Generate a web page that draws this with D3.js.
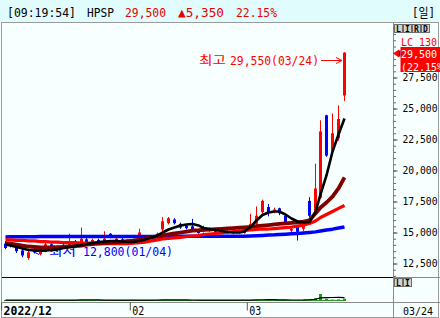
<!DOCTYPE html>
<html>
<head>
<meta charset="utf-8">
<script src="https://cdn.jsdelivr.net/npm/d3@7"></script>
<style>
html, body { margin: 0; padding: 0; background: #fff; }
svg { display: block; }
</style>
</head>
<body>
<svg id="chart" width="440" height="318"></svg>
<script>
// Static data
const dates = [
  '12/28', '12/29',
  '01/02', '01/03', '01/04', '01/05', '01/06', '01/09', '01/10', '01/11', '01/12', '01/13',
  '01/16', '01/17', '01/18', '01/19', '01/20', '01/25', '01/26', '01/27', '01/30', '01/31',
  '02/01', '02/02', '02/03', '02/06', '02/07', '02/08', '02/09', '02/10', '02/13', '02/14',
  '02/15', '02/16', '02/17', '02/20', '02/21', '02/22', '02/23', '02/24', '02/27', '02/28',
  '03/02', '03/03', '03/06', '03/07', '03/08', '03/09', '03/10', '03/13', '03/14', '03/15',
  '03/16', '03/17', '03/20', '03/21', '03/22', '03/23', '03/24'
];

const opens = [
  14100, 14000, 13950, 13550, 12950, 13600, 13250, 13650, 14050, 13750,
  14000, 13900, 14300, 14100, 14450, 14200, 14400, 14300, 14900, 14350,
  14450, 14200, 14400, 14750, 14550, 14600, 14700, 15250, 15750, 16050,
  15700, 15550, 15500, 15150, 15100, 15150, 15100, 14950, 15100, 14950,
  15100, 14950, 15300, 15700, 16650, 17050, 16700, 16950, 16350, 15150,
  15450, 15300, 17550, 16750, 17800, 24450, 21600, 22600, 26050
];
const highs = [
  14300, 14100, 14050, 13650, 13500, 13700, 13800, 14150, 14150, 14000,
  14100, 14900, 14400, 15400, 14600, 14500, 14500, 15100, 14950, 14600,
  14550, 14450, 14500, 15300, 14800, 14800, 15000, 16250, 16250, 16150,
  15800, 15650, 16100, 15250, 15550, 15400, 15150, 15200, 15200, 15200,
  15250, 15400, 16500, 17100, 17650, 17300, 17000, 17000, 16500, 15450,
  15550, 15700, 17850, 20550, 24050, 24500, 24600, 25250, 29550
];
const lows = [
  13650, 13800, 13350, 13000, 12800, 13300, 13150, 13600, 13700, 13650,
  13800, 13850, 14000, 14050, 14100, 14150, 14150, 14250, 14550, 14300,
  14150, 14100, 14200, 14700, 14350, 14500, 14600, 15100, 15650, 15650,
  15300, 15250, 15050, 14900, 15000, 15050, 14850, 14900, 14900, 14850,
  14900, 14900, 15200, 15600, 16500, 16300, 16550, 16400, 15700, 14950,
  14350, 15100, 16200, 16500, 17700, 21100, 21500, 22400, 25600
];
const closes = [
  13750, 13900, 13500, 13150, 13400, 13400, 13700, 14050, 13800, 13950,
  13850, 14300, 14100, 14500, 14200, 14400, 14250, 14500, 14600, 14500,
  14250, 14350, 14300, 15000, 14650, 14700, 14900, 15900, 16150, 15750,
  15400, 15350, 15150, 14950, 15250, 15250, 14900, 15100, 14950, 15100,
  15000, 15300, 15700, 16350, 17550, 16650, 16850, 16550, 15850, 15300,
  15050, 15550, 16350, 18550, 23150, 21200, 23000, 24150, 29500
];

// moving averages as drawn (5 / 20 / 60 / 120)
const ma5 = [
  14030, 13950, 13830, 13710, 13590, 13550, 13550, 13550, 13590, 13630,
  13750, 13830, 13910, 13990, 14070, 14150, 14230, 14270, 14320, 14320,
  14270, 14230, 14230, 14320, 14440, 14600, 14760, 15000, 15240, 15400,
  15570, 15650, 15690, 15570, 15360, 15280, 15200, 15120, 15040, 15000,
  15000, 15080, 15440, 15970, 16410, 16610, 16690, 16690, 16450, 16130,
  15890, 15810, 15850, 16690, 18070, 19600, 21530, 22900, 24190
];
const ma20 = [
  14150, 14110, 14030, 13950, 13870, 13830, 13790, 13790, 13790, 13790,
  13830, 13870, 13910, 13950, 14030, 14070, 14110, 14150, 14190, 14230,
  14270, 14310, 14350, 14430, 14520, 14600, 14680, 14760, 14840, 14920,
  15000, 15080, 15160, 15180, 15210, 15240, 15270, 15300, 15330, 15360,
  15390, 15420, 15460, 15510, 15560, 15600, 15650, 15700, 15740, 15780,
  15820, 15870, 15980, 16530, 17020, 17420, 17900, 18550, 19440
];
const ma60 = [
  14400, 14400, 14360, 14360, 14320, 14320, 14270, 14270, 14230, 14230,
  14190, 14190, 14190, 14150, 14150, 14150, 14110, 14110, 14110, 14110,
  14110, 14110, 14150, 14190, 14230, 14320, 14400, 14480, 14520, 14560,
  14600, 14680, 14720, 14760, 14840, 14880, 14920, 14960, 15040, 15080,
  15120, 15160, 15200, 15240, 15280, 15280, 15320, 15360, 15400, 15440,
  15520, 15600, 15730, 15930, 16210, 16450, 16690, 16940, 17180
];
const ma120 = [
  14640, 14650, 14650, 14660, 14660, 14660, 14670, 14670, 14670, 14670,
  14680, 14680, 14680, 14680, 14680, 14680, 14680, 14670, 14670, 14670,
  14670, 14670, 14670, 14670, 14670, 14680, 14680, 14690, 14690, 14700,
  14700, 14700, 14700, 14700, 14700, 14700, 14700, 14690, 14690, 14690,
  14690, 14700, 14720, 14740, 14760, 14790, 14810, 14840, 14860, 14890,
  14920, 14960, 15000, 15050, 15120, 15200, 15270, 15360, 15450
];

// volume (thousand shares) and its 5-day average as drawn
const volumes = [
  300, 250, 400, 450, 500, 300, 350, 400, 300, 250,
  300, 800, 600, 900, 400, 300, 250, 500, 350, 300,
  250, 300, 350, 700, 400, 300, 350, 900, 700, 500,
  400, 350, 500, 400, 300, 300, 350, 250, 300, 250,
  300, 500, 900, 1000, 1100, 600, 400, 500, 600, 400,
  700, 500, 1500, 3000, 7000, 2200, 1400, 1600, 2400
];
const volMa5 = [
  350, 340, 360, 380, 380, 380, 400, 400, 390, 330,
  320, 420, 450, 530, 600, 600, 550, 470, 360, 340,
  330, 340, 310, 380, 400, 410, 410, 530, 530, 530,
  570, 570, 490, 430, 390, 370, 370, 320, 300, 290,
  290, 320, 460, 590, 760, 820, 800, 720, 640, 500,
  520, 540, 740, 1220, 2540, 2840, 3020, 3040, 2920
];

// tick labels
const priceTicks = [12500, 15000, 17500, 20000, 22500, 25000, 27500];
const monthTicks = ['12/28', '02/01', '03/02'];
const monthLabels = ['2022/12', '02', '03'];

// header quote
const quoteTime = '09:19:54';
const quoteName = 'HPSP';
const quotePrice = 29500;
const quoteChange = 5350;
const quotePct = 22.15;

const mono = "'DejaVu Sans Mono', 'Liberation Mono', monospace";
const kr = "'Noto Sans CJK KR', sans-serif";
const fmt = d3.format(',');

const svg = d3.select('#chart');

// backgrounds / frame
svg.append('rect').attr('width', 440).attr('height', 318).attr('fill', '#f7ffff');
svg.append('rect').attr('width', 440).attr('height', 22).attr('fill', '#e0fcfc');
svg.append('rect')
   .attr('x', 1.5).attr('y', 22.5).attr('width', 437).attr('height', 295)
   .attr('fill', 'none').attr('stroke', '#9a9a9a');
svg.append('line').attr('x1', 393.5).attr('x2', 393.5).attr('y1', 23).attr('y2', 318).attr('stroke', '#8a8a8a');
svg.append('line').attr('x1', 2).attr('x2', 393).attr('y1', 277.5).attr('y2', 277.5).attr('stroke', '#000');
svg.append('line').attr('x1', 393).attr('x2', 440).attr('y1', 277.5).attr('y2', 277.5).attr('stroke', '#8a8a8a');
svg.append('line').attr('x1', 2).attr('x2', 440).attr('y1', 302.5).attr('y2', 302.5).attr('stroke', '#8a8a8a');

// header
const head = [
  { t: `[${quoteTime}]`, x: 7, len: 69, c: '#000' },
  { t: quoteName, x: 87, len: 27, c: '#000' },
  { t: fmt(quotePrice), x: 125, len: 41, c: '#e60000' },
  { t: '\u25b2' + fmt(quoteChange), x: 178, len: 46, c: '#e60000' },
  { t: quotePct.toFixed(2) + '%', x: 236, len: 41, c: '#e60000' },
  { t: '[일]', x: 412, len: 23, c: '#000' }
];
svg.selectAll('text.head').data(head).join('text')
   .attr('class', 'head')
   .attr('x', d => d.x).attr('y', 17)
   .attr('font-family', `${mono}, ${kr}`).attr('font-size', 13)
   .attr('textLength', d => d.len).attr('lengthAdjust', 'spacingAndGlyphs')
   .attr('fill', d => d.c)
   .text(d => d.t);

// scales
const x = d3.scaleBand().domain(dates).range([1.6, 1.6 + dates.length * 5.85]);
const cx = d => Math.round(x(d) + x.bandwidth() / 2);
const y = d3.scaleLinear().domain([12500, 27500]).range([263.5, 77.5]);
const yv = d3.scaleLinear().domain([0, 23000]).range([301, 278]);

svg.append('defs').append('clipPath').attr('id', 'pc')
   .append('rect').attr('x', 2).attr('y', 23).attr('width', 391).attr('height', 254);
const price = svg.append('g').attr('clip-path', 'url(#pc)');

// high / low annotations (drawn under the marks)
const hiIdx = highs.indexOf(d3.max(highs));
const loIdx = lows.indexOf(d3.min(lows));
const ax = cx(dates[hiIdx]) - 2;
const ay = Math.round(y(highs[hiIdx])) + 8.5;
price.append('path')
     .attr('d', `M${ax - 21},${ay}H${ax}M${ax - 6},${ay - 3}L${ax},${ay}L${ax - 6},${ay + 3}`)
     .attr('fill', 'none').attr('stroke', '#f00');
price.append('text').attr('x', ax - 23).attr('y', ay + 4.5).attr('text-anchor', 'end')
     .attr('font-family', mono).attr('font-size', 11.5).attr('fill', '#f00')
     .attr('textLength', 89).attr('lengthAdjust', 'spacingAndGlyphs')
     .text(`${fmt(highs[hiIdx])}(${dates[hiIdx]})`);
price.append('text').attr('x', ax - 116).attr('y', ay + 4.5).attr('text-anchor', 'end')
     .attr('font-family', kr).attr('font-size', 12).attr('fill', '#f00')
     .attr('textLength', 27).attr('lengthAdjust', 'spacingAndGlyphs')
     .text('최고');

const bx = cx(dates[loIdx]) + 5;
const by = Math.round(y(lows[loIdx])) - 8.5;
price.append('path')
     .attr('d', `M${bx + 14},${by}H${bx}M${bx + 6},${by - 3}L${bx},${by}L${bx + 6},${by + 3}`)
     .attr('fill', 'none').attr('stroke', '#00f');
price.append('text').attr('x', bx + 16).attr('y', by + 4.5)
     .attr('font-family', kr).attr('font-size', 12).attr('fill', '#00f')
     .attr('textLength', 27).attr('lengthAdjust', 'spacingAndGlyphs')
     .text('최저');
price.append('text').attr('x', bx + 50).attr('y', by + 4.5)
     .attr('font-family', mono).attr('font-size', 11.5).attr('fill', '#00f')
     .attr('textLength', 90).attr('lengthAdjust', 'spacingAndGlyphs')
     .text(`${fmt(lows[loIdx])}(${dates[loIdx]})`);

// candles
const candles = dates.map((d, i) => ({ d, o: opens[i], h: highs[i], l: lows[i], c: closes[i] }));
const col = d => d.c >= d.o ? '#ff0000' : '#0000ff';
const cg = price.selectAll('g.candle').data(candles).join('g').attr('class', 'candle');
cg.append('line')
  .attr('x1', d => cx(d.d) + 0.5).attr('x2', d => cx(d.d) + 0.5)
  .attr('y1', d => y(d.h)).attr('y2', d => y(d.l))
  .attr('stroke', col);
cg.append('rect')
  .attr('x', d => cx(d.d) - 1).attr('width', 3)
  .attr('y', d => y(Math.max(d.o, d.c)))
  .attr('height', d => Math.max(1, Math.abs(y(d.o) - y(d.c))))
  .attr('fill', col);

// moving average lines
const maLine = d3.line().x((d, i) => cx(dates[i]) + 0.5).y(d => y(d));
const maSeries = [
  { v: ma120, c: '#0000ff', w: 3.5 },
  { v: ma60, c: '#ff0000', w: 3.2 },
  { v: ma20, c: '#800000', w: 3.8 },
  { v: ma5, c: '#000000', w: 2.6 }
];
price.selectAll('path.ma').data(maSeries).join('path')
     .attr('class', 'ma')
     .attr('d', d => maLine(d.v))
     .attr('fill', 'none')
     .attr('stroke', d => d.c)
     .attr('stroke-width', d => d.w)
     .attr('stroke-linejoin', 'round');

// right price axis
const minorTicks = d3.range(11500, 32000, 500).filter(v => y(v) > 25 && y(v) < 276);
const gMinor = svg.append('g').attr('transform', 'translate(393.5,0)')
   .call(d3.axisRight(y).tickValues(minorTicks).tickSize(2.5).tickFormat(''));
gMinor.select('.domain').remove();
gMinor.selectAll('line').attr('stroke', '#666');

const gAxis = svg.append('g').attr('transform', 'translate(393.5,0)')
   .call(d3.axisRight(y).tickValues(priceTicks).tickSize(4).tickPadding(5).tickFormat(fmt));
gAxis.select('.domain').remove();
gAxis.selectAll('line').attr('stroke', '#555');
gAxis.selectAll('text')
     .attr('font-family', mono).attr('font-size', 10).attr('fill', '#000')
     .attr('textLength', 35).attr('lengthAdjust', 'spacingAndGlyphs');

// current price marker
const ly = Math.round(y(quotePrice)) + 0.5;
svg.append('path').attr('d', `M393,${ly}L399,${ly - 4}L399,${ly + 4}Z`).attr('fill', '#f00');
svg.append('rect').attr('x', 399).attr('y', ly - 3).attr('width', 1.5).attr('height', 6).attr('fill', '#00f');
svg.append('rect').attr('x', 400.5).attr('y', ly - 6.5).attr('width', 40).attr('height', 25).attr('fill', '#f00');
svg.append('text').attr('x', 401).attr('y', ly + 4.5)
   .attr('font-family', mono).attr('font-size', 10.5).attr('fill', '#fff')
   .attr('textLength', 36).attr('lengthAdjust', 'spacingAndGlyphs')
   .text(fmt(quotePrice));
svg.append('text').attr('x', 401).attr('y', ly + 17)
   .attr('font-family', mono).attr('font-size', 10.5).attr('fill', '#fff')
   .attr('textLength', 48).attr('lengthAdjust', 'spacingAndGlyphs')
   .text(`(${quotePct.toFixed(2)}%)`);
svg.append('text').attr('x', 401).attr('y', ly - 8)
   .attr('font-family', mono).attr('font-size', 10.5).attr('fill', '#f00')
   .attr('textLength', 36).attr('lengthAdjust', 'spacingAndGlyphs')
   .text('LC 130');

// small toolbar buttons
const btn = (labels, bx0, by0) => {
  labels.forEach((t, i) => {
    const g = svg.append('g').attr('transform', `translate(${bx0 + i * 9},${by0})`);
    g.append('rect').attr('x', 0.5).attr('y', 0.5).attr('width', 8).attr('height', 8)
     .attr('fill', '#d6d3ce').attr('stroke', '#6b6b6b');
    g.append('text').attr('x', 4.5).attr('y', 7.5).attr('text-anchor', 'middle')
     .attr('font-family', mono).attr('font-size', 8).attr('font-weight', 'bold').text(t);
  });
};
btn(['L', 'I', 'R', 'D'], 394, 24);
btn(['L', 'I'], 394, 278);

// volume pane
const vol = svg.append('g');
vol.append('line')
   .attr('x1', cx(dates[0]) - 1).attr('x2', cx(dates[dates.length - 1]) + 2)
   .attr('y1', 300.5).attr('y2', 300.5).attr('stroke', '#229a22');
vol.selectAll('rect').data(volumes).join('rect')
   .attr('x', (d, i) => cx(dates[i]) - 1).attr('width', 3)
   .attr('y', d => Math.min(300, yv(d)))
   .attr('height', d => Math.max(1, 301 - yv(d)))
   .attr('fill', '#229a22');
vol.append('path')
   .attr('d', d3.line().x((d, i) => cx(dates[i]) + 0.5).y(d => yv(d) - 0.5)(volMa5))
   .attr('fill', 'none').attr('stroke', '#000').attr('stroke-width', 1.2);

// x axis
const gx = svg.append('g')
   .attr('transform', `translate(${-x.bandwidth() / 2},302.5)`)
   .call(d3.axisBottom(x).tickValues(monthTicks).tickSize(8)
     .tickFormat(d => monthLabels[monthTicks.indexOf(d)]));
gx.select('.domain').remove();
gx.selectAll('line').attr('stroke', '#555');
gx.selectAll('text')
  .attr('x', 2).attr('y', 12.5).attr('dy', 0)
  .attr('text-anchor', 'start')
  .attr('font-family', mono).attr('font-size', 11.5).attr('fill', '#000')
  .attr('font-weight', (d, i) => i === 0 ? 'bold' : 'normal')
  .attr('textLength', (d, i) => monthLabels[i].length * (i === 0 ? 6.9 : 6))
  .attr('lengthAdjust', 'spacingAndGlyphs');
svg.append('text').attr('x', 403).attr('y', 315)
   .attr('font-family', mono).attr('font-size', 11)
   .attr('textLength', 30).attr('lengthAdjust', 'spacingAndGlyphs')
   .text(dates[dates.length - 1]);
</script>
</body>
</html>
